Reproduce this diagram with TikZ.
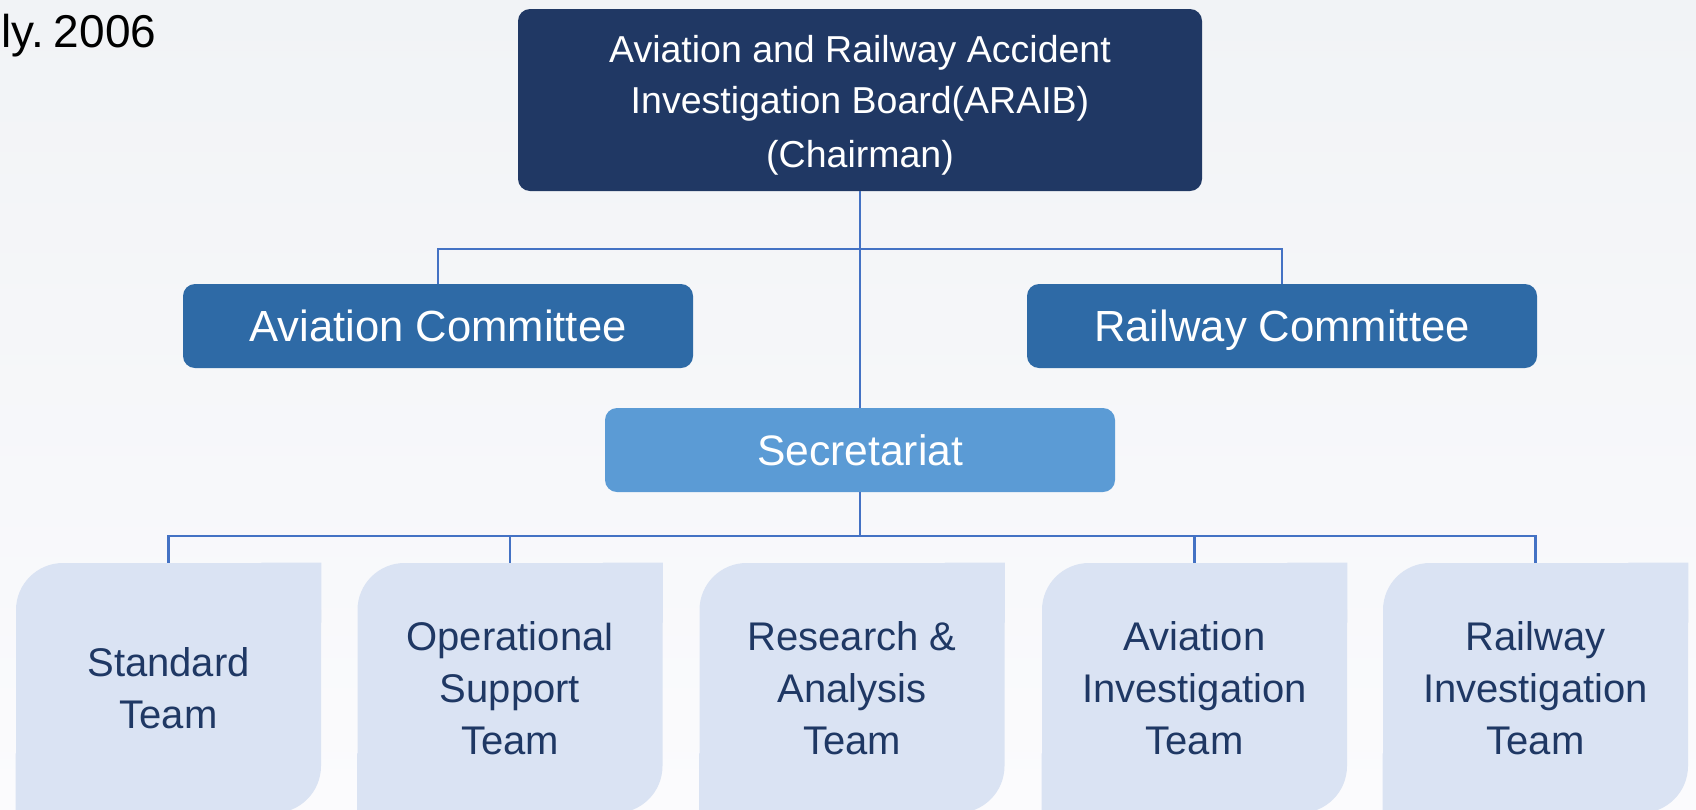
\documentclass[tikz,border=0pt]{standalone}
\usepackage{fontspec}
\setmainfont{Liberation Sans}
\usepackage{xcolor}
\usepackage{tikz}
\usetikzlibrary{positioning}

\definecolor{boardblue}{HTML}{203864}
\definecolor{cmtblue}{HTML}{2E6AA6}
\definecolor{secblue}{HTML}{5B9BD5}
\definecolor{teambg}{HTML}{DAE3F3}
\definecolor{teamtext}{HTML}{1F3864}
\definecolor{linkblue}{HTML}{4472C4}
\definecolor{bgtop}{HTML}{F1F3F6}
\definecolor{bgbot}{HTML}{FBFBFD}

\begin{document}
\begin{tikzpicture}[x=0.5pt, y=-0.5pt,
            board/.style={rectangle, rounded corners=6pt, fill=boardblue, text=white, minimum width=342pt, minimum height=91pt, inner sep=0pt, font=\fontsize{18.75}{25.5}\selectfont},
            cmt/.style={rectangle, rounded corners=6pt, fill=cmtblue, text=white, minimum width=255pt, minimum height=42pt, inner sep=0pt, text height=15.9pt, text depth=0.2pt, font=\fontsize{21.8}{26}\selectfont},
            sec/.style={cmt, fill=secblue, text height=15.5pt, font=\fontsize{21.3}{26}\selectfont},
            team/.style={rectangle, rounded corners=23.5pt, fill=teambg, text=teamtext, minimum width=152.5pt, minimum height=125pt, inner sep=0pt, align=center, font=\fontsize{20}{26}\selectfont},
            link/.style={draw=linkblue, line width=1.2pt}]

            \useasboundingbox (0,0) rectangle (1696,809);
            \clip (0,0) rectangle (1696,809);
            \shade[top color=bgtop, bottom color=bgbot] (0,0) rectangle (1696,809);

            % date
            \node[anchor=base west, inner sep=0pt, font=\fontsize{23}{26}\selectfont] (date) at (1,47) {ly.\hspace{5pt}2006};

            % board
            \node[board] (board) at (860,100) {\raisebox{-6.85pt}[0pt][0pt]{\begin{tabular}{@{}c@{}}Aviation and Railway Accident\\Investigation Board(ARAIB)\\[1.5pt](Chairman)\end{tabular}}};

            % committees
            \node[cmt] (avc) at (438,326) {Aviation Committee};
            \node[cmt] (rwc) at (1282,326) {Railway Committee};

            % secretariat
            \node[sec] (sec) at (860,450) {Secretariat};

            % teams
            \node[team] (t1) at (168.5,688) {Standard\\Team};
            \node[team] (t2) at (510,688) {Operational\\Support\\Team};
            \node[team] (t3) at (852,688) {Research \&\\Analysis\\Team};
            \node[team] (t4) at (1194.5,688) {Aviation\\Investigation\\Team};
            \node[team] (t5) at (1535.5,688) {Railway\\Investigation\\Team};

            % square corners of the team boxes
            \foreach \t in {t1,t2,t3,t4,t5}
              \fill[teambg] (\t.north east) rectangle ([xshift=-30pt,yshift=-30pt]\t.north east)
                            (\t.south west) rectangle ([xshift=30pt,yshift=30pt]\t.south west);

            % joints
            \coordinate (cj) at (860,249);
            \coordinate (tj) at (860,536);

            % links
            \draw[link] (board.south) -- (sec.north);
            \draw[link] (avc.north) |- (cj) -| (rwc.north);
            \draw[link] (sec.south) -- (tj);
            \draw[link] (t1.north) |- (tj) -| (t5.north);
            \draw[link] (t2.north) -- (t2.north |- tj);
            \draw[link] (t4.north) -- (t4.north |- tj);
        \end{tikzpicture}
\end{document}
